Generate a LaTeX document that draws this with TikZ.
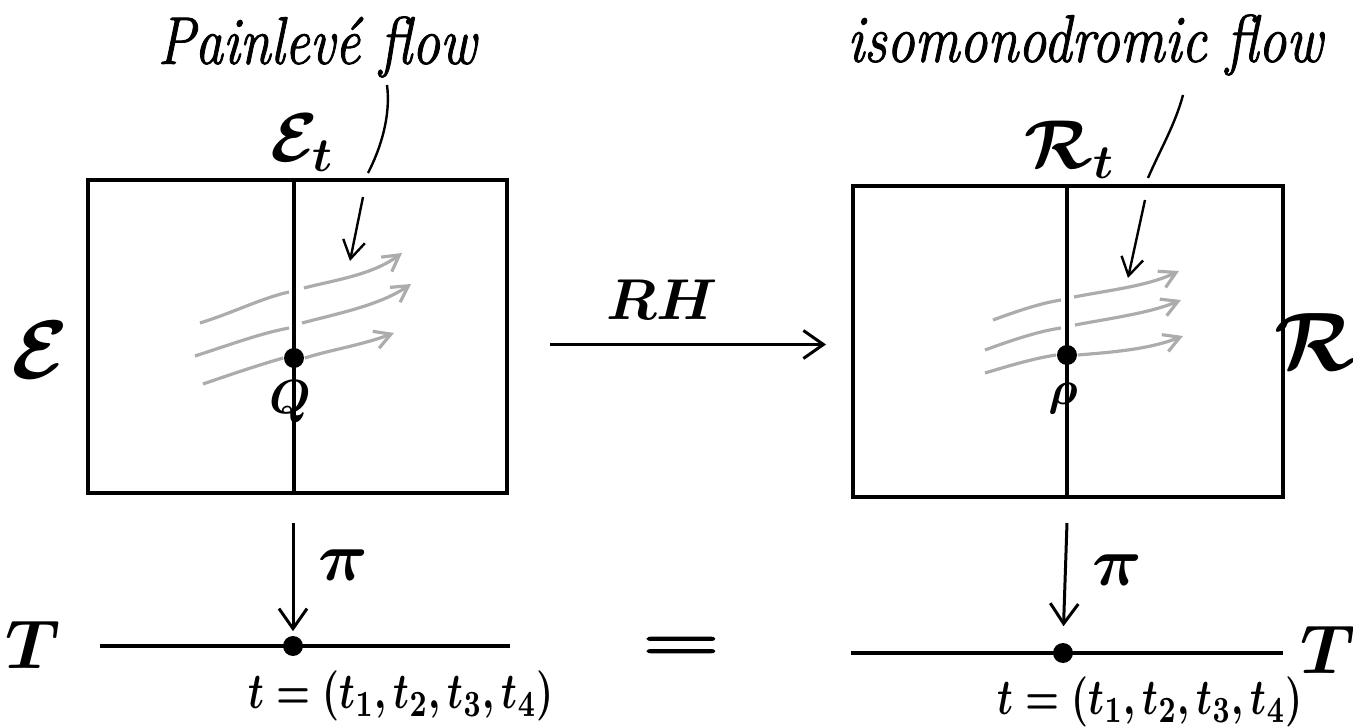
\documentclass[tikz,border=0pt]{standalone}
\usepackage{fontspec}
\usepackage{graphicx}
\newfontfamily\handfont{Latin Modern Roman}[FakeBold=1.5]
\newfontfamily\eqfont{Latin Modern Roman}[FakeBold=2.5]
\usetikzlibrary{arrows.meta}
\begin{document}
\begin{tikzpicture}[x=0.25pt,y=-0.25pt,
  frame/.style={draw, line width=1pt, inner sep=0pt},
  fibre/.style={line width=1.1pt},
  tline/.style={line width=1.2pt},
  map/.style={line width=0.75pt, -{Straight Barb[length=5pt,width=7pt]}},
  pointer/.style={line width=0.6pt},
  pointertip/.style={pointer, -{Straight Barb[length=4.5pt,width=5.5pt]}},
  flow/.style={draw=gray!65, line width=0.8pt},
  flowtip/.style={flow, -{Straight Barb[length=4pt,width=4.5pt]}},
  pt/.style={circle, fill=black, inner sep=0pt, minimum size=5pt},
  lab/.style={inner sep=0pt},
  title/.style={lab, font=\fontsize{14}{16}\handfont\itshape},
  big/.style={lab, font=\boldmath\fontsize{21}{23}\selectfont},
  mid/.style={lab, font=\boldmath\fontsize{17}{19}\selectfont},
  small/.style={lab, font=\boldmath\fontsize{12}{14}\selectfont},
  tlab/.style={lab, font=\boldmath\fontsize{11}{13}\selectfont}]
\useasboundingbox (0,0) rectangle (1353,728);

% ---------- left box ----------
\node[frame, minimum width=104.75pt, minimum height=78.25pt] (boxE) at (297.5,336.5) {};
\coordinate (eTop) at (294,180);
\coordinate (eBot) at (294,493);
\draw[fibre] (eTop) -- (eBot);
\node[pt] (q) at (294,358) {};
\node[small] (qlab) at (290,402) {$Q$};
\node[mid, font=\boldmath\fontsize{16.5}{18}\selectfont] (Et) at (302,143) {$\mathcal{E}_t$};
\node[big] (E) at (40,350) {$\mathcal{E}$};
\node[title] (pflow) at (317,47) {\scalebox{1}[1.2]{Painlevé flow}};

% flow lines left
\draw[flow] (200,323) .. controls (235,312) and (262,298) .. (289,292);
\draw[flowtip] (304,288) .. controls (335,280) and (372,275) .. (402,253);
\draw[flow] (195,356) .. controls (235,343) and (262,333) .. (289,328);
\draw[flowtip] (302,323) .. controls (340,313) and (380,305) .. (411,284);
\draw[flow] (203,384) .. controls (235,373) and (262,364) .. (q.west);
\draw[flowtip] (q.east) .. controls (330,350) and (362,345) .. (394,333);

% pointer left (broken at the frame)
\coordinate (pl0) at (387,85);
\coordinate (pl1) at (368,173);
\coordinate (pl2) at (363,197);
\coordinate (pl3) at (350,261);
\draw[pointer] (pl0) .. controls (391,115) and (381,148) .. (pl1);
\draw[pointertip] (pl2) -- (pl3);

% ---------- right box ----------
\node[frame, minimum width=107.5pt, minimum height=77.75pt] (boxR) at (1068,341.5) {};
\coordinate (rTop) at (1067,186);
\coordinate (rBot) at (1067,497);
\draw[fibre] (rTop) -- (rBot);
\node[pt] (rho) at (1067,355) {};
\node[small] (rholab) at (1063,398) {$\rho$};
\node[mid] (Rt) at (1070,150) {$\mathcal{R}_t$};
\node[big] (R) at (1316,342) {$\mathcal{R}$};
\node[title] (iflow) at (1085,45) {\scalebox{1}[1.2]{isomonodromic flow}};

% flow lines right
\draw[flow] (993,320) .. controls (1020,310) and (1042,303) .. (1061,300);
\draw[flowtip] (1074,297) .. controls (1110,290) and (1148,286) .. (1179,271);
\draw[flow] (985,350) .. controls (1015,339) and (1040,331) .. (1061,328);
\draw[flowtip] (1075,325) .. controls (1112,318) and (1150,313) .. (1181,300);
\draw[flow] (985,373) .. controls (1015,364) and (1036,358) .. (rho.west);
\draw[flowtip] (rho.east) .. controls (1115,352) and (1150,349) .. (1183,336);

% pointer right (broken at the frame)
\coordinate (pr0) at (1183,95);
\coordinate (pr1) at (1148,178);
\coordinate (pr2) at (1145,200);
\coordinate (pr3) at (1128,278);
\draw[pointer] (pr0) .. controls (1175,125) and (1160,150) .. (pr1);
\draw[pointertip] (pr2) -- (pr3);

% ---------- RH ----------
\draw[map] ([xshift=10.25pt,yshift=-2pt]boxE.east) -- ([xshift=-6.25pt,yshift=-0.75pt]boxR.west);
\node[lab, font=\boldmath\fontsize{14}{16}\selectfont] (RH) at (662,300) {$RH$};

% ---------- base T left ----------
\coordinate (bL1) at (100,646);
\coordinate (bL2) at (510,646);
\draw[tline] (bL1) -- (bL2);
\node[pt] (tE) at (293,646) {};
\coordinate (eArr) at (293,523);
\draw[map, shorten >=1pt] (eArr) -- (tE.north);
\node[mid, font=\boldmath\fontsize{18}{20}\selectfont] (piL) at (343,565) {$\pi$};
\node[lab, font=\boldmath\fontsize{17}{19}\selectfont] (TL) at (33,645) {$T$};
\node[tlab] (tlabL) at (401,696) {\scalebox{0.87}[1.15]{$t=(t_1,t_2,t_3,t_4)$}};

% ---------- base T right ----------
\coordinate (bR1) at (851,653);
\coordinate (bR2) at (1283,653);
\draw[tline] (bR1) -- (bR2);
\node[pt] (tR) at (1063,653) {};
\coordinate (rArr) at (1067,523);
\draw[map, shorten >=4pt] (rArr) -- (tR.north);
\node[mid, font=\boldmath\fontsize{18}{20}\selectfont] (piR) at (1117,570) {$\pi$};
\node[lab, font=\boldmath\fontsize{16}{18}\selectfont] (TR) at (1328,650) {$T$};
\node[tlab] (tlabR) at (1150,702) {\scalebox{0.87}[1.15]{$t=(t_1,t_2,t_3,t_4)$}};

% ---------- equals ----------
\node[lab, font=\eqfont\fontsize{17.5}{20}\selectfont] (eq) at (681,650) {\scalebox{1.5}[1]{=}};
\end{tikzpicture}
\end{document}
